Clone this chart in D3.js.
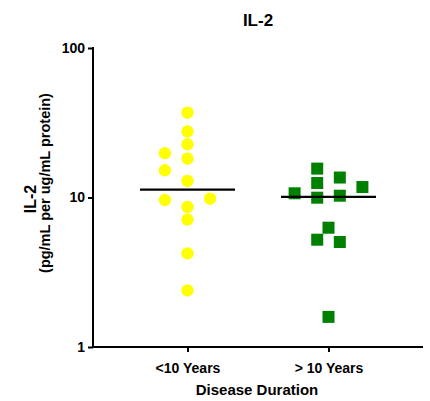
<!DOCTYPE html>
<html>
<head>
<meta charset="utf-8">
<script src="https://cdn.jsdelivr.net/npm/d3@7"></script>
<style>
  body { margin: 0; background: #fff; }
  text { font-family: Arial, "Liberation Sans", sans-serif; font-weight: bold; fill: #000; }
</style>
</head>
<body>
<div class="container"></div>
<script>
const w = 430;
const h = 401;

// groups on the x axis
const groups = ['<10 Years', '> 10 Years'];

// IL-2 values, with the column slot each dot sits in
const shortValues = [36.9, 27.7, 22.7, 19.8, 18.2, 15.2, 12.9, 9.62, 9.82, 8.64, 7.11, 4.23, 2.39];
const shortSlots  = [0, 0, 0, -2, 0, -2, 0, -2, 2, 0, 0, 0, 0];
const longValues  = [15.6, 12.5, 13.6, 11.75, 10.67, 9.97, 10.28, 6.28, 5.22, 5.04, 1.59];
const longSlots   = [-1, -1, 1, 3, -3, -1, 1, 0, -1, 1, 0];
const centerLines = [11.3, 10.1];
const yTicks = [1, 10, 100];

const margin = {top: 48, right: 7, bottom: 54, left: 93};

const svg = d3.select('.container').append('svg')
    .attr('width', w)
    .attr('height', h);

const x = d3.scalePoint()
    .domain(groups)
    .range([margin.left, w - margin.right])
    .padding(0.67);

const y = d3.scaleLog()
    .domain([1, 100])
    .range([h - margin.bottom, margin.top]);

const slot = 11.3;

const yAxis = d3.axisLeft(y)
    .tickValues(yTicks)
    .tickFormat(d3.format('d'))
    .tickSize(5)
    .tickSizeOuter(0)
    .tickPadding(3);

const xAxis = d3.axisBottom(x)
    .tickSize(5)
    .tickSizeOuter(0)
    .tickPadding(11);

const gy = svg.append('g')
    .attr('transform', `translate(${margin.left},0)`)
    .call(yAxis);

const gx = svg.append('g')
    .attr('transform', `translate(0,${h - margin.bottom})`)
    .call(xAxis);

[gx, gy].forEach(g => {
  g.selectAll('path, line').attr('stroke', '#000').attr('stroke-width', 2);
  g.selectAll('text').style('font-size', '14px').attr('fill', '#000');
  g.attr('font-family', null).attr('font-size', null);
});
gy.select('.domain').attr('d', `M0,${y(1) + 1}V${y(100) - 1}`);
gx.select('.domain').attr('d', `M${margin.left - 1},0H${w - margin.right}`);

// dots
svg.append('g')
  .selectAll('circle')
  .data(shortValues.map((v, i) => ({v, s: shortSlots[i]})))
  .enter().append('circle')
    .attr('cx', d => x(groups[0]) + d.s * slot)
    .attr('cy', d => y(d.v))
    .attr('r', 6.2)
    .attr('fill', '#ffff00');

svg.append('g')
  .selectAll('rect')
  .data(longValues.map((v, i) => ({v, s: longSlots[i]})))
  .enter().append('rect')
    .attr('x', d => x(groups[1]) + d.s * slot - 6)
    .attr('y', d => y(d.v) - 6)
    .attr('width', 12)
    .attr('height', 12)
    .attr('fill', '#008000');

// median lines
svg.append('g')
  .selectAll('line')
  .data(centerLines)
  .enter().append('line')
    .attr('x1', (d, i) => x(groups[i]) - 47.5)
    .attr('x2', (d, i) => x(groups[i]) + 47.5)
    .attr('y1', d => y(d))
    .attr('y2', d => y(d))
    .attr('stroke', '#000')
    .attr('stroke-width', 2.2);

// titles
svg.append('text')
  .attr('x', 258)
  .attr('y', 26)
  .attr('text-anchor', 'middle')
  .style('font-size', '17px')
  .text('IL-2');

svg.append('text')
  .attr('transform', 'translate(35.5,199) rotate(-90)')
  .attr('text-anchor', 'middle')
  .style('font-size', '16px')
  .text('IL-2');

svg.append('text')
  .attr('transform', 'translate(50,183) rotate(-90)')
  .attr('text-anchor', 'middle')
  .style('font-size', '14.5px')
  .text('(pg/mL per ug/mL protein)');

svg.append('text')
  .attr('x', 257)
  .attr('y', 395)
  .attr('text-anchor', 'middle')
  .style('font-size', '15px')
  .text('Disease Duration');
</script>
</body>
</html>
